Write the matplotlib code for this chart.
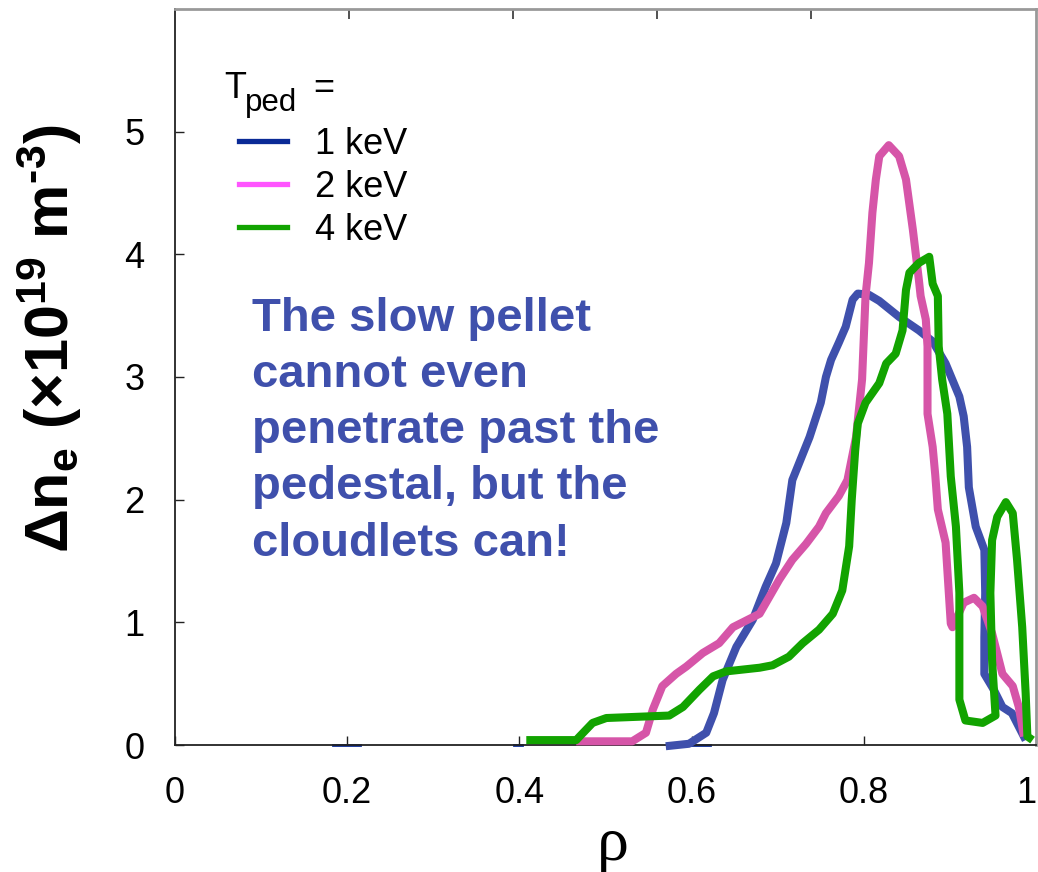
import matplotlib
matplotlib.use("Agg")
import matplotlib.pyplot as plt
from matplotlib.lines import Line2D

plt.rcParams['font.family'] = ['Liberation Sans', 'DejaVu Sans']
plt.rcParams['mathtext.fontset'] = 'custom'
plt.rcParams['mathtext.rm'] = 'Liberation Sans'
plt.rcParams['mathtext.bf'] = 'Liberation Sans:bold'
plt.rcParams['mathtext.it'] = 'Liberation Sans:italic'

# Профиль для T_ped = 1 keV
rho_1kev = [0.570, 0.597, 0.617, 0.626, 0.636, 0.652, 0.671, 0.686, 0.698, 0.710,
            0.717, 0.737, 0.750, 0.756, 0.762, 0.771, 0.779, 0.787, 0.793, 0.806,
            0.818, 0.841, 0.864, 0.880, 0.895, 0.911, 0.916, 0.920, 0.922, 0.930,
            0.940, 0.941, 0.940, 0.940, 0.951, 0.961, 0.972, 0.980, 0.988]
dne_1kev = [-0.01, 0.01, 0.10, 0.26, 0.53, 0.80, 1.02, 1.29, 1.48, 1.81,
            2.16, 2.51, 2.79, 3.00, 3.14, 3.28, 3.41, 3.63, 3.68, 3.67,
            3.62, 3.49, 3.38, 3.29, 3.11, 2.84, 2.68, 2.43, 2.10, 1.78,
            1.59, 1.24, 0.88, 0.58, 0.45, 0.31, 0.26, 0.15, 0.04]

# Профиль для T_ped = 2 keV
rho_2kev = [0.466, 0.531, 0.547, 0.555, 0.566, 0.582, 0.594, 0.613, 0.632, 0.648,
            0.679, 0.702, 0.717, 0.733, 0.748, 0.756, 0.771, 0.781, 0.791, 0.798,
            0.802, 0.806, 0.810, 0.814, 0.818, 0.829, 0.841, 0.849, 0.857, 0.864,
            0.866, 0.872, 0.874, 0.874, 0.880, 0.883, 0.886, 0.895, 0.901, 0.903,
            0.916, 0.928, 0.938, 0.949, 0.961, 0.973, 0.980, 0.986]
dne_2kev = [0.03, 0.03, 0.10, 0.29, 0.48, 0.58, 0.64, 0.75, 0.83, 0.96,
            1.07, 1.35, 1.51, 1.64, 1.78, 1.89, 2.03, 2.16, 2.51, 2.98,
            3.66, 3.93, 4.34, 4.61, 4.80, 4.89, 4.80, 4.61, 4.20, 3.79,
            3.66, 3.47, 3.25, 2.70, 2.43, 2.20, 1.92, 1.65, 0.99, 0.96,
            1.16, 1.20, 1.13, 0.91, 0.58, 0.48, 0.31, 0.07]

# Профиль для T_ped = 4 keV
rho_4kev = [0.408, 0.466, 0.470, 0.485, 0.501, 0.574, 0.590, 0.609, 0.625, 0.640,
            0.679, 0.694, 0.713, 0.729, 0.748, 0.764, 0.775, 0.783, 0.786, 0.790,
            0.793, 0.802, 0.818, 0.826, 0.837, 0.845, 0.849, 0.853, 0.864, 0.876,
            0.880, 0.886, 0.887, 0.891, 0.897, 0.901, 0.907, 0.911, 0.911, 0.918,
            0.938, 0.953, 0.949, 0.947, 0.949, 0.955, 0.965, 0.973, 0.978, 0.984,
            0.988, 0.990, 0.996]
dne_4kev = [0.04, 0.04, 0.07, 0.18, 0.22, 0.24, 0.31, 0.45, 0.56, 0.60,
            0.63, 0.65, 0.72, 0.83, 0.94, 1.07, 1.26, 1.62, 2.00, 2.40,
            2.62, 2.79, 2.95, 3.11, 3.19, 3.38, 3.71, 3.85, 3.93, 3.98,
            3.76, 3.66, 3.25, 2.98, 2.70, 2.19, 1.78, 1.24, 0.37, 0.20,
            0.18, 0.24, 0.69, 1.24, 1.67, 1.86, 1.98, 1.89, 1.51, 0.96,
            0.42, 0.07, 0.04]

# Короткие тёмно-синие отрезки на нулевой линии
zero_segments = [(0.183, 0.215), (0.394, 0.403), (0.599, 0.621)]

legend_labels = ['1 keV', '2 keV', '4 keV']
x_ticks = [0, 0.2, 0.4, 0.6, 0.8, 1]
x_tick_labels = ['0', '0.2', '0.4', '0.6', '0.8', '1']
y_ticks = [0, 1, 2, 3, 4, 5]
top_ticks = [0.202, 0.393, 0.560, 0.739]

curve_colors = ['#3F50AC', '#D655A8', '#12A300']
legend_colors = ['#0A2A96', '#FF55FF', '#12A300']
note_color = '#3F50AC'

fig = plt.figure(figsize=(10.38, 8.72), dpi=100)
ax = fig.add_axes([175 / 1038, 127 / 872, 861 / 1038, 736 / 872])

for x0, x1 in zero_segments:
    ax.plot([x0, x1], [0, 0], color=legend_colors[0], lw=2, clip_on=False, zorder=1)

for rho, dne, col in zip([rho_1kev, rho_2kev, rho_4kev],
                         [dne_1kev, dne_2kev, dne_4kev], curve_colors):
    ax.plot(rho, dne, color=col, lw=5.8, solid_joinstyle='round',
            solid_capstyle='butt', clip_on=False, zorder=3)

ax.set_xlim(0, 1)
ax.set_ylim(0, 6)
ax.set_xticks(x_ticks)
ax.set_xticklabels(x_tick_labels)
ax.get_xticklabels()[-1].set_horizontalalignment('right')
ax.set_yticks(y_ticks)
ax.tick_params(direction='in', length=6.5, width=1, labelsize=26, pad=22,
               color='#222222')

# Оси: левая и нижняя чёрные, верхняя и правая серые
for side in ['left', 'bottom']:
    ax.spines[side].set_color('#222222')
    ax.spines[side].set_linewidth(1.3)
for side in ['top', 'right']:
    ax.spines[side].set_color('#999999')
    ax.spines[side].set_linewidth(2)

top = ax.secondary_xaxis('top')
top.set_xticks(top_ticks)
top.set_xticklabels([])
top.tick_params(direction='in', length=7, width=1.2, color='#333333')
top.spines['top'].set_visible(False)

# Подписи осей
fig.text(49 / 1038, 1 - 339 / 872,
         '$\\mathbf{\\Delta n_e\\ (\\times 10^{19}\\ m^{\u20103})}$',
         rotation=90, ha='center', va='center', fontsize=44)
fig.text(613 / 1038, 1 - 860 / 872, 'ρ', family=['Liberation Serif', 'DejaVu Serif'],
         ha='center', va='baseline', fontsize=46)

# Заголовок легенды: T_ped =
fig.text(224 / 1038, 1 - 98 / 872, 'T', fontsize=26, ha='left', va='baseline')
fig.text(245 / 1038, 1 - 111 / 872, 'ped', fontsize=22.5, ha='left', va='baseline')
fig.text(313 / 1038, 1 - 98 / 872, '=', fontsize=26, ha='left', va='baseline')

handles = [Line2D([], [], color=c, lw=3.8) for c in legend_colors]
ax.legend(handles, legend_labels, loc='upper left',
          bbox_to_anchor=(239 / 1038, 1 - 127 / 872),
          bbox_transform=fig.transFigure, frameon=False, fontsize=26,
          borderpad=0, borderaxespad=0, handlelength=1.33,
          handletextpad=0.78, labelspacing=0.22)

ax.text(0.089, 3.655,
        'The slow pellet\ncannot even\npenetrate past the\npedestal, but the\ncloudlets can!',
        color=note_color, fontsize=34, fontweight='bold', ha='left', va='top',
        linespacing=1.36)

fig.savefig('out.png', dpi=100)
